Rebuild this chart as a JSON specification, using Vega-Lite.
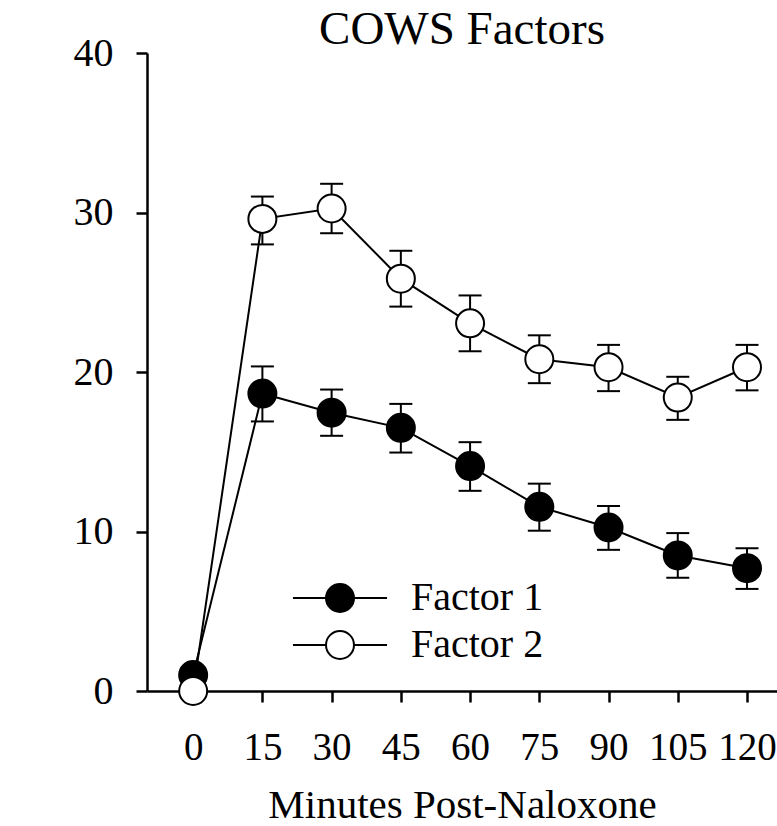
{
  "$schema": "https://vega.github.io/schema/vega-lite/v6.json",
  "width": 630,
  "height": 638,
  "autosize": {"type": "none"},
  "padding": {"left": 147, "top": 53, "right": 0, "bottom": 135},
  "background": "white",
  "title": {
    "text": "COWS Factors",
    "font": "Liberation Serif",
    "fontSize": 47,
    "fontWeight": "normal",
    "color": "black",
    "anchor": "middle",
    "baseline": "alphabetic",
    "offset": -58
  },
  "config": {
    "view": {"stroke": null},
    "axis": {
      "grid": false,
      "domainColor": "black",
      "domainWidth": 2.5,
      "tickColor": "black",
      "tickWidth": 2.5,
      "tickSize": 11,
      "labelFont": "Liberation Serif",
      "labelFontSize": 39,
      "labelColor": "black",
      "titleFont": "Liberation Serif",
      "titleFontSize": 41,
      "titleFontWeight": "normal",
      "titleColor": "black"
    },
    "legend": {
      "labelFont": "Liberation Serif",
      "labelFontSize": 40,
      "labelColor": "black"
    }
  },
  "data": {
    "values": [
      {"series": "Factor 1", "minutes": 0, "score": 1.0, "lo": null, "hi": null},
      {"series": "Factor 1", "minutes": 15, "score": 18.65, "lo": 16.9, "hi": 20.35},
      {"series": "Factor 1", "minutes": 30, "score": 17.45, "lo": 16.0, "hi": 18.9},
      {"series": "Factor 1", "minutes": 45, "score": 16.5, "lo": 14.95, "hi": 18.0},
      {"series": "Factor 1", "minutes": 60, "score": 14.1, "lo": 12.55, "hi": 15.6},
      {"series": "Factor 1", "minutes": 75, "score": 11.55, "lo": 10.05, "hi": 13.0},
      {"series": "Factor 1", "minutes": 90, "score": 10.25, "lo": 8.85, "hi": 11.6},
      {"series": "Factor 1", "minutes": 105, "score": 8.5, "lo": 7.1, "hi": 9.9},
      {"series": "Factor 1", "minutes": 120, "score": 7.7, "lo": 6.4, "hi": 8.95},
      {"series": "Factor 2", "minutes": 0, "score": 0.0, "lo": null, "hi": null},
      {"series": "Factor 2", "minutes": 15, "score": 29.6, "lo": 28.0, "hi": 31.0},
      {"series": "Factor 2", "minutes": 30, "score": 30.25, "lo": 28.7, "hi": 31.8},
      {"series": "Factor 2", "minutes": 45, "score": 25.85, "lo": 24.1, "hi": 27.6},
      {"series": "Factor 2", "minutes": 60, "score": 23.05, "lo": 21.3, "hi": 24.8},
      {"series": "Factor 2", "minutes": 75, "score": 20.8, "lo": 19.3, "hi": 22.3},
      {"series": "Factor 2", "minutes": 90, "score": 20.3, "lo": 18.8, "hi": 21.7},
      {"series": "Factor 2", "minutes": 105, "score": 18.4, "lo": 17.0, "hi": 19.7},
      {"series": "Factor 2", "minutes": 120, "score": 20.3, "lo": 18.85, "hi": 21.7}
    ]
  },
  "encoding": {
    "x": {
      "field": "minutes",
      "type": "quantitative",
      "scale": {"domain": [-10, 126.5], "nice": false, "zero": false},
      "axis": {
        "values": [0, 15, 30, 45, 60, 75, 90, 105, 120],
        "title": "Minutes Post-Naloxone",
        "labelPadding": 26,
        "titlePadding": 18,
        "labelFlush": false,
        "labelOverlap": false
      }
    }
  },
  "layer": [
    {
      "mark": {"type": "line", "color": "black", "strokeWidth": 2},
      "encoding": {
        "y": {
          "field": "score",
          "type": "quantitative",
          "scale": {"domain": [0, 40], "nice": false},
          "axis": {
            "values": [0, 10, 20, 30, 40],
            "title": null,
            "labelPadding": 23,
            "labelFontSize": 40
          }
        },
        "detail": {"field": "series"}
      }
    },
    {
      "transform": [{"filter": "isValid(datum.lo)"}],
      "mark": {"type": "rule", "color": "black", "strokeWidth": 2},
      "encoding": {
        "y": {"field": "lo", "type": "quantitative"},
        "y2": {"field": "hi"}
      }
    },
    {
      "transform": [{"filter": "isValid(datum.lo)"}],
      "mark": {"type": "tick", "orient": "horizontal", "color": "black", "size": 23, "thickness": 2, "opacity": 1},
      "encoding": {
        "y": {"field": "lo", "type": "quantitative"}
      }
    },
    {
      "transform": [{"filter": "isValid(datum.lo)"}],
      "mark": {"type": "tick", "orient": "horizontal", "color": "black", "size": 23, "thickness": 2, "opacity": 1},
      "encoding": {
        "y": {"field": "hi", "type": "quantitative"}
      }
    },
    {
      "mark": {"type": "circle", "stroke": "black", "strokeWidth": 2, "size": 784, "opacity": 1, "fillOpacity": 1},
      "encoding": {
        "y": {"field": "score", "type": "quantitative"},
        "fill": {
          "field": "series",
          "type": "nominal",
          "scale": {"domain": ["Factor 1", "Factor 2"], "range": ["black", "white"]},
          "legend": {
            "title": null,
            "orient": "none",
            "legendX": 173,
            "legendY": 525,
            "padding": 0,
            "symbolType": "M -3.36 0 L -1 0 M 1 0 L 3.36 0 M 1 0 A 1 1 0 1 1 -1 0 A 1 1 0 1 1 1 0 Z",
            "symbolSize": 784,
            "symbolStrokeColor": "black",
            "symbolStrokeWidth": 2,
            "symbolOpacity": 1,
            "labelOffset": 51,
            "rowPadding": 7,
            "labelFontSize": 40
          }
        }
      }
    }
  ]
}
